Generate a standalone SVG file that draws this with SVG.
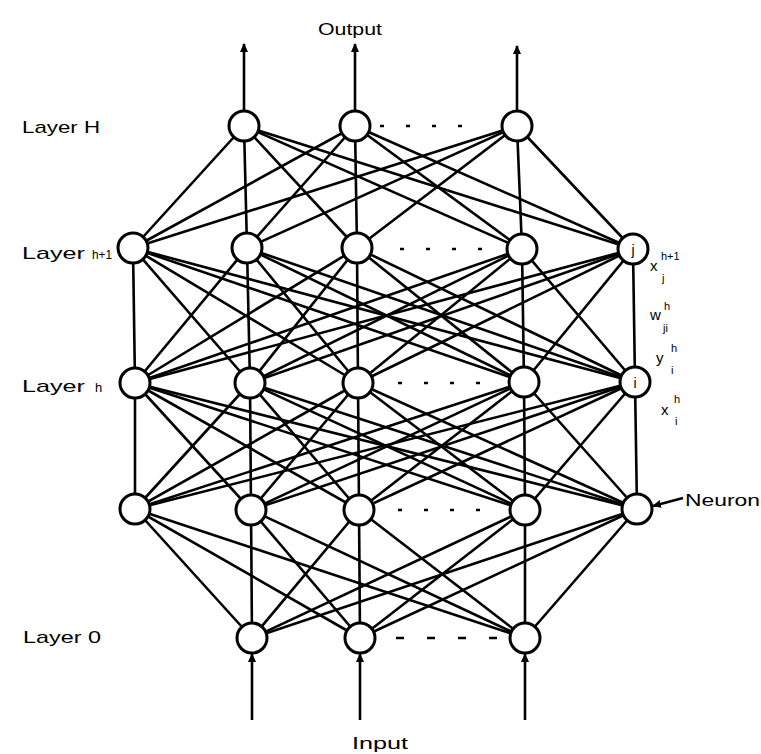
<svg xmlns="http://www.w3.org/2000/svg" width="761" height="754" viewBox="0 0 761 754">
<style>
.c line{stroke:#000;stroke-width:2.6;fill:none}
.n circle{fill:#fff;stroke:#000;stroke-width:3}
.dots{stroke:#000;stroke-width:2.5;stroke-dasharray:4 22;fill:none}
.io{stroke:#000;stroke-width:2.6;fill:none;marker-end:url(#ah)}
text{font-family:"Liberation Sans",Arial,sans-serif;fill:#000}
.lbl{font-size:17px}
.m{font-size:15px}
.s{font-size:11px}
</style>
<defs>
<marker id="ah" markerWidth="9" markerHeight="8" refX="8" refY="4" orient="auto" markerUnits="userSpaceOnUse">
<path d="M0,0 L9,4 L0,8 z" fill="#000"/>
</marker>
</defs>
<rect width="761" height="754" fill="#fff"/>
<g id="connectors" class="c">
<!-- H to h+1 -->
<line x1="244" y1="126" x2="133" y2="248"/><line x1="244" y1="126" x2="247" y2="248"/><line x1="244" y1="126" x2="357" y2="248"/><line x1="244" y1="126" x2="522" y2="249"/><line x1="244" y1="126" x2="633" y2="249"/>
<line x1="355" y1="126" x2="133" y2="248"/><line x1="355" y1="126" x2="247" y2="248"/><line x1="355" y1="126" x2="357" y2="248"/><line x1="355" y1="126" x2="522" y2="249"/><line x1="355" y1="126" x2="633" y2="249"/>
<line x1="517" y1="126" x2="133" y2="248"/><line x1="517" y1="126" x2="247" y2="248"/><line x1="517" y1="126" x2="357" y2="248"/><line x1="517" y1="126" x2="522" y2="249"/><line x1="517" y1="126" x2="633" y2="249"/>
<!-- h+1 to h -->
<line x1="133" y1="248" x2="135" y2="383"/><line x1="133" y1="248" x2="250" y2="383"/><line x1="133" y1="248" x2="358" y2="383"/><line x1="133" y1="248" x2="524" y2="382"/><line x1="133" y1="248" x2="635" y2="382"/>
<line x1="247" y1="248" x2="135" y2="383"/><line x1="247" y1="248" x2="250" y2="383"/><line x1="247" y1="248" x2="358" y2="383"/><line x1="247" y1="248" x2="524" y2="382"/><line x1="247" y1="248" x2="635" y2="382"/>
<line x1="357" y1="248" x2="135" y2="383"/><line x1="357" y1="248" x2="250" y2="383"/><line x1="357" y1="248" x2="358" y2="383"/><line x1="357" y1="248" x2="524" y2="382"/><line x1="357" y1="248" x2="635" y2="382"/>
<line x1="522" y1="249" x2="135" y2="383"/><line x1="522" y1="249" x2="250" y2="383"/><line x1="522" y1="249" x2="358" y2="383"/><line x1="522" y1="249" x2="524" y2="382"/><line x1="522" y1="249" x2="635" y2="382"/>
<line x1="633" y1="249" x2="135" y2="383"/><line x1="633" y1="249" x2="250" y2="383"/><line x1="633" y1="249" x2="358" y2="383"/><line x1="633" y1="249" x2="524" y2="382"/><line x1="633" y1="249" x2="635" y2="382"/>
<!-- h to row 4 -->
<line x1="135" y1="383" x2="135" y2="509"/><line x1="135" y1="383" x2="251" y2="510"/><line x1="135" y1="383" x2="359" y2="510"/><line x1="135" y1="383" x2="525" y2="510"/><line x1="135" y1="383" x2="637" y2="509"/>
<line x1="250" y1="383" x2="135" y2="509"/><line x1="250" y1="383" x2="251" y2="510"/><line x1="250" y1="383" x2="359" y2="510"/><line x1="250" y1="383" x2="525" y2="510"/><line x1="250" y1="383" x2="637" y2="509"/>
<line x1="358" y1="383" x2="135" y2="509"/><line x1="358" y1="383" x2="251" y2="510"/><line x1="358" y1="383" x2="359" y2="510"/><line x1="358" y1="383" x2="525" y2="510"/><line x1="358" y1="383" x2="637" y2="509"/>
<line x1="524" y1="382" x2="135" y2="509"/><line x1="524" y1="382" x2="251" y2="510"/><line x1="524" y1="382" x2="359" y2="510"/><line x1="524" y1="382" x2="525" y2="510"/><line x1="524" y1="382" x2="637" y2="509"/>
<line x1="635" y1="382" x2="135" y2="509"/><line x1="635" y1="382" x2="251" y2="510"/><line x1="635" y1="382" x2="359" y2="510"/><line x1="635" y1="382" x2="525" y2="510"/><line x1="635" y1="382" x2="637" y2="509"/>
<!-- row 4 to layer 0 -->
<line x1="135" y1="509" x2="252" y2="638"/><line x1="135" y1="509" x2="360" y2="638"/><line x1="135" y1="509" x2="525" y2="638"/>
<line x1="251" y1="510" x2="252" y2="638"/><line x1="251" y1="510" x2="360" y2="638"/><line x1="251" y1="510" x2="525" y2="638"/>
<line x1="359" y1="510" x2="252" y2="638"/><line x1="359" y1="510" x2="360" y2="638"/><line x1="359" y1="510" x2="525" y2="638"/>
<line x1="525" y1="510" x2="252" y2="638"/><line x1="525" y1="510" x2="360" y2="638"/><line x1="525" y1="510" x2="525" y2="638"/>
<line x1="637" y1="509" x2="252" y2="638"/><line x1="637" y1="509" x2="360" y2="638"/><line x1="637" y1="509" x2="525" y2="638"/>
<!-- outputs and inputs -->
<line class="io" x1="244" y1="111" x2="244" y2="44"/>
<line class="io" x1="355" y1="111" x2="355" y2="44"/>
<line class="io" x1="517" y1="111" x2="517" y2="46"/>
<line class="io" x1="252" y1="720" x2="252" y2="654"/>
<line class="io" x1="360" y1="720" x2="360" y2="654"/>
<line class="io" x1="525" y1="720" x2="525" y2="654"/>
<line class="io" x1="683" y1="498" x2="653" y2="506"/>
<!-- dotted continuation -->
<line class="dots" x1="380" y1="126" x2="480" y2="126"/>
<line class="dots" x1="400" y1="249" x2="490" y2="249"/>
<line class="dots" x1="398" y1="383" x2="490" y2="383"/>
<line class="dots" x1="398" y1="510" x2="490" y2="510"/>
<line class="dots" x1="396" y1="638" x2="500" y2="638" style="stroke-dasharray:8 23"/>
</g>
<g class="n">
<g id="nH1"><circle cx="244" cy="126" r="15"/></g>
<g id="nH2"><circle cx="355" cy="126" r="15"/></g>
<g id="nH3"><circle cx="517" cy="126" r="15"/></g>
<g id="nB1"><circle cx="133" cy="248" r="15"/></g>
<g id="nB2"><circle cx="247" cy="248" r="15"/></g>
<g id="nB3"><circle cx="357" cy="248" r="15"/></g>
<g id="nB4"><circle cx="522" cy="249" r="15"/></g>
<g id="nB5"><circle cx="633" cy="249" r="15"/><text x="633" y="255" font-size="14" text-anchor="middle">j</text></g>
<g id="nC1"><circle cx="135" cy="383" r="15"/></g>
<g id="nC2"><circle cx="250" cy="383" r="15"/></g>
<g id="nC3"><circle cx="358" cy="383" r="15"/></g>
<g id="nC4"><circle cx="524" cy="382" r="15"/></g>
<g id="nC5"><circle cx="635" cy="382" r="15"/><text x="635" y="388" font-size="14" text-anchor="middle">i</text></g>
<g id="nD1"><circle cx="135" cy="509" r="15"/></g>
<g id="nD2"><circle cx="251" cy="510" r="15"/></g>
<g id="nD3"><circle cx="359" cy="510" r="15"/></g>
<g id="nD4"><circle cx="525" cy="510" r="15"/></g>
<g id="nD5"><circle cx="637" cy="509" r="15"/></g>
<g id="nE1"><circle cx="252" cy="638" r="15"/></g>
<g id="nE2"><circle cx="360" cy="638" r="15"/></g>
<g id="nE3"><circle cx="525" cy="638" r="15"/></g>
</g>
<g id="labels">
<text class="lbl" x="318" y="35" textLength="64" lengthAdjust="spacingAndGlyphs">Output</text>
<text class="lbl" x="352" y="749" textLength="56" lengthAdjust="spacingAndGlyphs">Input</text>
<text class="lbl" x="22" y="133" textLength="78" lengthAdjust="spacingAndGlyphs">Layer H</text>
<text class="lbl" x="22" y="259" textLength="63" lengthAdjust="spacingAndGlyphs">Layer</text>
<text x="92" y="259" font-size="12" textLength="20" lengthAdjust="spacingAndGlyphs">h+1</text>
<text class="lbl" x="22" y="392" textLength="63" lengthAdjust="spacingAndGlyphs">Layer</text>
<text x="95" y="392" font-size="13">h</text>
<text class="lbl" x="23" y="643" textLength="78" lengthAdjust="spacingAndGlyphs">Layer 0</text>
<text class="lbl" x="685" y="506" textLength="75" lengthAdjust="spacingAndGlyphs">Neuron</text>
<text class="m" x="650" y="271">x</text><text class="s" x="661" y="260">h+1</text><text class="s" x="662" y="282">j</text>
<text class="m" x="650" y="320">w</text><text class="s" x="664" y="310">h</text><text class="s" x="663" y="332">ji</text>
<text class="m" x="656" y="363">y</text><text class="s" x="671" y="352">h</text><text class="s" x="671" y="374">i</text>
<text class="m" x="661" y="415">x</text><text class="s" x="674" y="403">h</text><text class="s" x="675" y="425">i</text>
</g>
</svg>
